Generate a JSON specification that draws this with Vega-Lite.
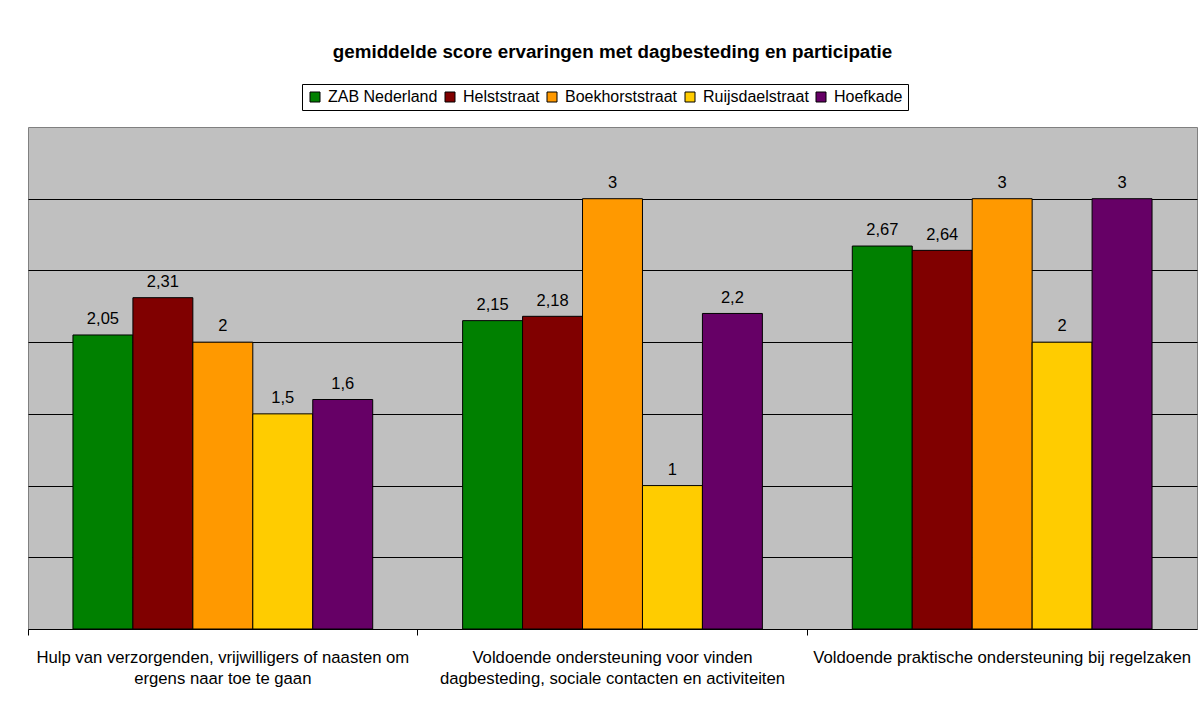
{
  "$schema": "https://vega.github.io/schema/vega-lite/v6.json",
  "width": 1169,
  "height": 502,
  "autosize": {"type": "none"},
  "padding": {"left": 28, "top": 127, "right": 7, "bottom": 73},
  "background": "white",
  "title": {
    "text": "gemiddelde score ervaringen met dagbesteding en participatie",
    "font": "Liberation Sans",
    "fontSize": 18.8,
    "fontWeight": "bold",
    "color": "black",
    "anchor": "middle",
    "offset": 22
  },
  "data": {
    "values": [
      {"vraag": "Hulp van verzorgenden, vrijwilligers of naasten om|ergens naar toe te gaan", "locatie": "ZAB Nederland", "score": 2.05},
      {"vraag": "Hulp van verzorgenden, vrijwilligers of naasten om|ergens naar toe te gaan", "locatie": "Helststraat", "score": 2.31},
      {"vraag": "Hulp van verzorgenden, vrijwilligers of naasten om|ergens naar toe te gaan", "locatie": "Boekhorststraat", "score": 2},
      {"vraag": "Hulp van verzorgenden, vrijwilligers of naasten om|ergens naar toe te gaan", "locatie": "Ruijsdaelstraat", "score": 1.5},
      {"vraag": "Hulp van verzorgenden, vrijwilligers of naasten om|ergens naar toe te gaan", "locatie": "Hoefkade", "score": 1.6},
      {"vraag": "Voldoende ondersteuning voor vinden|dagbesteding, sociale contacten en activiteiten", "locatie": "ZAB Nederland", "score": 2.15},
      {"vraag": "Voldoende ondersteuning voor vinden|dagbesteding, sociale contacten en activiteiten", "locatie": "Helststraat", "score": 2.18},
      {"vraag": "Voldoende ondersteuning voor vinden|dagbesteding, sociale contacten en activiteiten", "locatie": "Boekhorststraat", "score": 3},
      {"vraag": "Voldoende ondersteuning voor vinden|dagbesteding, sociale contacten en activiteiten", "locatie": "Ruijsdaelstraat", "score": 1},
      {"vraag": "Voldoende ondersteuning voor vinden|dagbesteding, sociale contacten en activiteiten", "locatie": "Hoefkade", "score": 2.2},
      {"vraag": "Voldoende praktische ondersteuning bij regelzaken", "locatie": "ZAB Nederland", "score": 2.67},
      {"vraag": "Voldoende praktische ondersteuning bij regelzaken", "locatie": "Helststraat", "score": 2.64},
      {"vraag": "Voldoende praktische ondersteuning bij regelzaken", "locatie": "Boekhorststraat", "score": 3},
      {"vraag": "Voldoende praktische ondersteuning bij regelzaken", "locatie": "Ruijsdaelstraat", "score": 2},
      {"vraag": "Voldoende praktische ondersteuning bij regelzaken", "locatie": "Hoefkade", "score": 3}
    ]
  },
  "encoding": {
    "x": {
      "field": "vraag",
      "type": "nominal",
      "sort": null,
      "title": null,
      "scale": {"paddingInner": 0, "paddingOuter": 0},
      "axis": {
        "bandPosition": 0,
        "labelExpr": "split(datum.value, '|')",
        "labelAngle": 0,
        "labelAlign": "center",
        "labelFont": "Liberation Sans",
        "labelFontSize": 16.7,
        "labelColor": "black",
        "labelLineHeight": 21,
        "labelPadding": 14,
        "labelLimit": 1000,
        "labelOverlap": false,
        "labelBound": false,
        "tickSize": 6,
        "tickColor": "black",
        "domainColor": "black",
        "grid": false
      }
    },
    "xOffset": {
      "field": "locatie",
      "type": "nominal",
      "sort": ["ZAB Nederland", "Helststraat", "Boekhorststraat", "Ruijsdaelstraat", "Hoefkade"],
      "scale": {"paddingInner": 0, "paddingOuter": 0.75}
    },
    "y": {
      "field": "score",
      "type": "quantitative",
      "title": null,
      "scale": {"domain": [0, 3.5], "nice": false, "zero": true},
      "axis": {
        "values": [0.5, 1, 1.5, 2, 2.5, 3],
        "grid": true,
        "gridColor": "black",
        "gridWidth": 1,
        "gridOpacity": 1,
        "labels": false,
        "ticks": false,
        "domain": false
      }
    }
  },
  "layer": [
    {
      "mark": {"type": "bar", "stroke": "black", "strokeWidth": 1},
      "encoding": {
        "color": {
          "field": "locatie",
          "type": "nominal",
          "scale": {
            "domain": ["ZAB Nederland", "Helststraat", "Boekhorststraat", "Ruijsdaelstraat", "Hoefkade"],
            "range": ["#008000", "#800000", "#FF9900", "#FFCC00", "#660066"]
          },
          "legend": {
            "orient": "none",
            "legendX": 274,
            "legendY": -43,
            "direction": "horizontal",
            "columns": 5,
            "title": null,
            "symbolType": "square",
            "symbolSize": 100,
            "symbolStrokeColor": "black",
            "symbolStrokeWidth": 1,
            "symbolOpacity": 1,
            "labelFont": "Liberation Sans",
            "labelFontSize": 16,
            "labelColor": "black",
            "labelOffset": 5,
            "columnPadding": 4,
            "padding": 5,
            "strokeColor": "black",
            "fillColor": "white"
          }
        }
      }
    },
    {
      "mark": {
        "type": "text",
        "baseline": "alphabetic",
        "dy": -10.7,
        "font": "Liberation Sans",
        "fontSize": 16.5,
        "color": "black"
      },
      "encoding": {
        "text": {"field": "score", "type": "quantitative", "format": "~g"}
      }
    }
  ],
  "config": {
    "locale": {
      "number": {"decimal": ",", "thousands": ".", "grouping": [3], "currency": ["€ ", ""]}
    },
    "font": "Liberation Sans",
    "view": {"fill": "#C0C0C0", "stroke": "#808080", "strokeWidth": 1}
  }
}
